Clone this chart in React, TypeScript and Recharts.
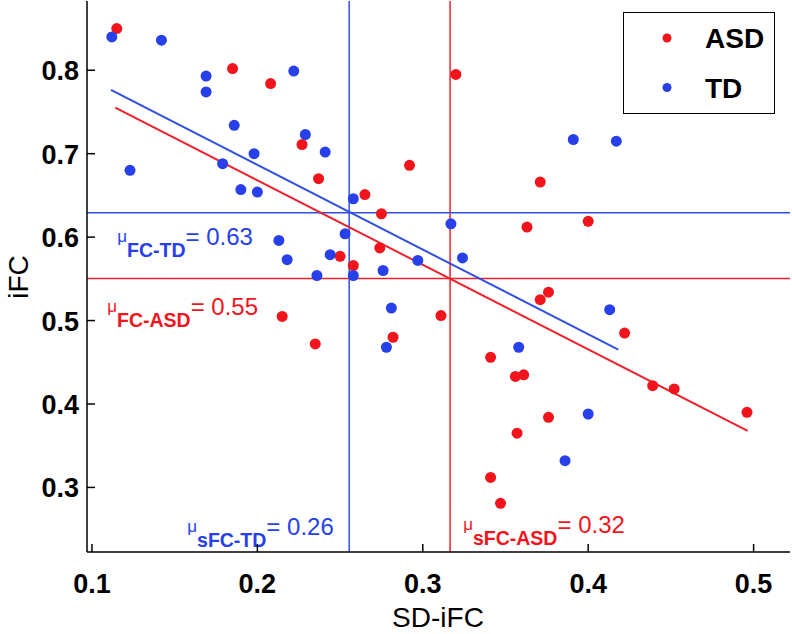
import React from 'react';
import { ScatterChart, Scatter, XAxis, YAxis, ReferenceLine, ReferenceDot } from 'recharts';

const seriesNames = ['ASD', 'TD'];
const seriesColors = ['#f2141c', '#2740ea'];
const lineColors = ['#f0202a', '#3050e0'];

const asdX = [0.115, 0.185, 0.208, 0.227, 0.237, 0.320, 0.292, 0.371, 0.265, 0.275, 0.363, 0.400, 0.274, 0.250, 0.258, 0.376, 0.371, 0.311, 0.282, 0.341, 0.356, 0.361, 0.439, 0.452, 0.496, 0.376, 0.357, 0.341, 0.347, 0.215, 0.235, 0.422];
const asdY = [0.850, 0.802, 0.784, 0.711, 0.670, 0.795, 0.686, 0.666, 0.651, 0.628, 0.612, 0.619, 0.587, 0.577, 0.566, 0.534, 0.525, 0.506, 0.480, 0.456, 0.433, 0.435, 0.422, 0.418, 0.390, 0.384, 0.365, 0.312, 0.281, 0.505, 0.472, 0.485];

const tdX = [0.112, 0.142, 0.169, 0.169, 0.222, 0.186, 0.229, 0.241, 0.198, 0.123, 0.179, 0.190, 0.200, 0.391, 0.417, 0.258, 0.317, 0.253, 0.244, 0.297, 0.324, 0.276, 0.258, 0.236, 0.213, 0.218, 0.413, 0.281, 0.278, 0.358, 0.400, 0.386];
const tdY = [0.840, 0.836, 0.793, 0.774, 0.799, 0.734, 0.723, 0.702, 0.700, 0.680, 0.688, 0.657, 0.654, 0.717, 0.715, 0.646, 0.616, 0.604, 0.579, 0.572, 0.575, 0.560, 0.554, 0.554, 0.596, 0.573, 0.513, 0.515, 0.468, 0.468, 0.388, 0.332];

const asdFitX = [0.1141, 0.4964];
const asdFitY = [0.7552, 0.3678];
const tdFitX = [0.1115, 0.4182];
const tdFitY = [0.7764, 0.4651];

const meanSFC = { ASD: 0.3165, TD: 0.2555 };
const meanFC = { ASD: 0.5503, TD: 0.6292 };
const meanLabels = { sFC_ASD: '0.32', sFC_TD: '0.26', FC_ASD: '0.55', FC_TD: '0.63' };

const xTicks = [0.1, 0.2, 0.3, 0.4, 0.5];
const yTicks = [0.3, 0.4, 0.5, 0.6, 0.7, 0.8];
const xDomain = [0.097, 0.522];
const yDomain = [0.2226, 0.883];

const asdData = asdX.map((x, i) => ({ x, y: asdY[i] }));
const tdData = tdX.map((x, i) => ({ x, y: tdY[i] }));

const FONT = '"Liberation Sans", Arial, Helvetica, sans-serif';

const BottomTick = (p: any) => (
  <g>
    <line x1={p.x} y1={p.y} x2={p.x} y2={p.y - 8} stroke="#000" strokeWidth={1.5} />
    <text x={p.x} y={p.y + 41} textAnchor="middle" fontFamily={FONT} fontWeight="bold" fontSize={27} fill="#000">
      {p.payload.value.toFixed(1)}
    </text>
  </g>
);
const TopTick = (p: any) => (
  <line x1={p.x} y1={p.y} x2={p.x} y2={p.y + 8} stroke="#000" strokeWidth={1.5} />
);
const LeftTick = (p: any) => (
  <g>
    <line x1={p.x} y1={p.y} x2={p.x + 8} y2={p.y} stroke="#000" strokeWidth={1.5} />
    <text x={p.x - 8} y={p.y + 10} textAnchor="end" fontFamily={FONT} fontWeight="bold" fontSize={27} fill="#000">
      {p.payload.value.toFixed(1)}
    </text>
  </g>
);
const RightTick = (p: any) => (
  <line x1={p.x} y1={p.y} x2={p.x - 8} y2={p.y} stroke="#000" strokeWidth={1.5} />
);

const Dot = (color: string) => (p: any) => <circle cx={p.cx} cy={p.cy} r={5.5} fill={color} />;

const annot = (sub: string, val: string, color: string) => (p: any) => (
  <text x={p.cx} y={p.cy} fill={color} fontFamily={FONT}>
    <tspan fontSize={17} dy={-3}>μ</tspan>
    <tspan fontSize={19.5} fontWeight="bold" dy={15}>{sub}</tspan>
    <tspan fontSize={24} dy={-12}>= {val}</tspan>
  </text>
);

export default function App() {
  return (
    <div style={{ position: 'absolute', left: 0, top: 0, width: 792, height: 634, background: '#fff' }}>
      <ScatterChart width={792} height={634} margin={{ top: 1, right: 2, bottom: 0, left: 0 }}>
        <XAxis xAxisId="b" type="number" dataKey="x" domain={xDomain} ticks={xTicks} allowDataOverflow
          height={82} tickSize={0} tickMargin={0} tickLine={false} tick={<BottomTick />}
          axisLine={{ stroke: '#000', strokeWidth: 1.5 }} />
        <XAxis xAxisId="t" orientation="top" type="number" domain={xDomain} ticks={xTicks} allowDataOverflow
          height={0} tickSize={0} tickMargin={0} tickLine={false} tick={<TopTick />}
          axisLine={{ stroke: '#000', strokeWidth: 1.5 }} />
        <YAxis yAxisId="l" type="number" dataKey="y" domain={yDomain} ticks={yTicks} allowDataOverflow
          width={87} tickSize={0} tickMargin={0} tickLine={false} tick={<LeftTick />}
          axisLine={{ stroke: '#000', strokeWidth: 1.5 }} />
        <YAxis yAxisId="r" orientation="right" type="number" domain={yDomain} ticks={yTicks} allowDataOverflow
          width={0} tickSize={0} tickMargin={0} tickLine={false} tick={<RightTick />}
          axisLine={{ stroke: '#000', strokeWidth: 1.5 }} />

        <ReferenceLine xAxisId="b" yAxisId="l" x={meanSFC.TD} stroke={lineColors[1]} strokeWidth={1.5} />
        <ReferenceLine xAxisId="b" yAxisId="l" x={meanSFC.ASD} stroke={lineColors[0]} strokeWidth={1.5} />
        <ReferenceLine xAxisId="b" yAxisId="l" y={meanFC.TD} stroke={lineColors[1]} strokeWidth={1.5} />
        <ReferenceLine xAxisId="b" yAxisId="l" y={meanFC.ASD} stroke={lineColors[0]} strokeWidth={1.5} />
        <ReferenceLine xAxisId="b" yAxisId="l" ifOverflow="visible" stroke={lineColors[1]} strokeWidth={2}
          segment={[{ x: tdFitX[0], y: tdFitY[0] }, { x: tdFitX[1], y: tdFitY[1] }]} />
        <ReferenceLine xAxisId="b" yAxisId="l" ifOverflow="visible" stroke={lineColors[0]} strokeWidth={2}
          segment={[{ x: asdFitX[0], y: asdFitY[0] }, { x: asdFitX[1], y: asdFitY[1] }]} />

        <Scatter xAxisId="b" yAxisId="l" name={seriesNames[0]} data={asdData} shape={Dot(seriesColors[0])} isAnimationActive={false} />
        <Scatter xAxisId="b" yAxisId="l" name={seriesNames[1]} data={tdData} shape={Dot(seriesColors[1])} isAnimationActive={false} />

        <ReferenceDot xAxisId="b" yAxisId="l" x={0.1153} y={0.5911} r={0} ifOverflow="visible"
          shape={annot('FC-TD', meanLabels.FC_TD, seriesColors[1])} />
        <ReferenceDot xAxisId="b" yAxisId="l" x={0.1092} y={0.5071} r={0} ifOverflow="visible"
          shape={annot('FC-ASD', meanLabels.FC_ASD, seriesColors[0])} />
        <ReferenceDot xAxisId="b" yAxisId="l" x={0.1576} y={0.2430} r={0} ifOverflow="visible"
          shape={annot('sFC-TD', meanLabels.sFC_TD, seriesColors[1])} />
        <ReferenceDot xAxisId="b" yAxisId="l" x={0.3244} y={0.2454} r={0} ifOverflow="visible"
          shape={annot('sFC-ASD', meanLabels.sFC_ASD, seriesColors[0])} />
      </ScatterChart>

      <svg width={792} height={634} style={{ position: 'absolute', left: 0, top: 0, pointerEvents: 'none' }}>
        <text x={438} y={627} textAnchor="middle" fontFamily={FONT} fontSize={28} fill="#000">SD-iFC</text>
        <text x={0} y={0} transform="translate(28,277) rotate(-90)" textAnchor="middle" fontFamily={FONT} fontSize={28} fill="#000">iFC</text>
      </svg>

      <div style={{ position: 'absolute', left: 623, top: 12, width: 152, height: 102, border: '1.5px solid #000', boxSizing: 'border-box', background: '#fff' }}>
        <svg width={150} height={100}>
          {seriesNames.map((n, i) => (
            <g key={n}>
              <circle cx={43} cy={25 + i * 49.5} r={4.5} fill={seriesColors[i]} />
              <text x={81} y={35 + i * 49.5} fontFamily={FONT} fontWeight="bold" fontSize={28} fill="#000">{n}</text>
            </g>
          ))}
        </svg>
      </div>
    </div>
  );
}
